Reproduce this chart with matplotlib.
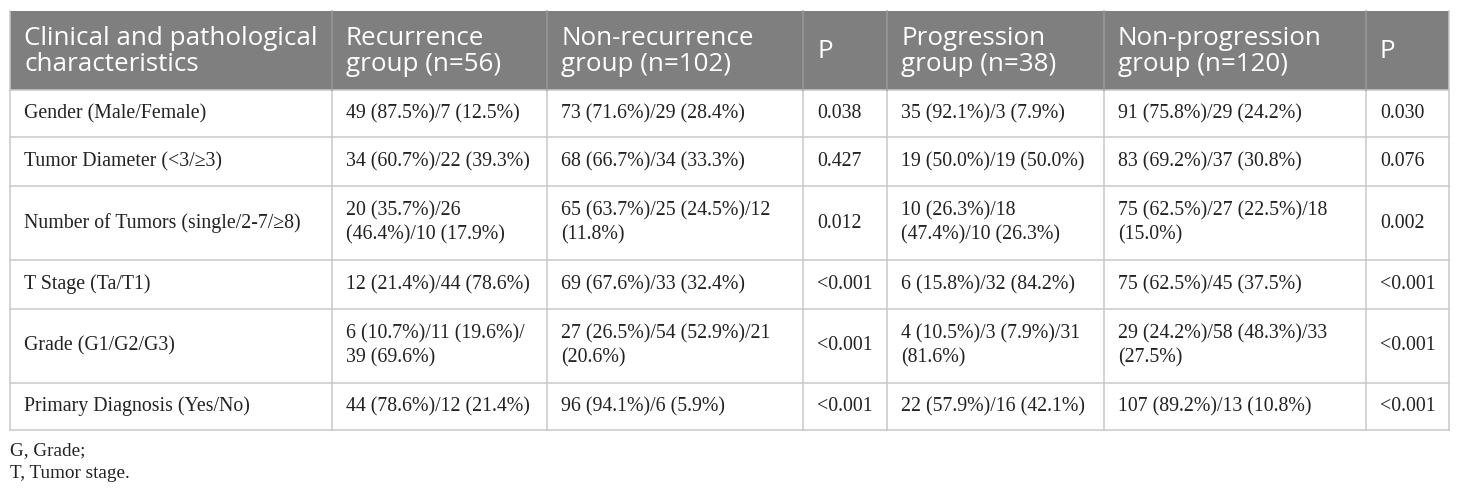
import matplotlib
matplotlib.use("Agg")
import matplotlib.pyplot as plt

W, H = 1460, 495

headers = [
    "Clinical and pathological\ncharacteristics",
    "Recurrence\ngroup (n=56)",
    "Non-recurrence\ngroup (n=102)",
    "P",
    "Progression\ngroup (n=38)",
    "Non-progression\ngroup (n=120)",
    "P",
]

characteristics = [
    "Gender (Male/Female)",
    "Tumor Diameter (<3/\u22653)",
    "Number of Tumors (single/2-7/\u22658)",
    "T Stage (Ta/T1)",
    "Grade (G1/G2/G3)",
    "Primary Diagnosis (Yes/No)",
]

recurrence = [
    "49 (87.5%)/7 (12.5%)",
    "34 (60.7%)/22 (39.3%)",
    "20 (35.7%)/26\n(46.4%)/10 (17.9%)",
    "12 (21.4%)/44 (78.6%)",
    "6 (10.7%)/11 (19.6%)/\n39 (69.6%)",
    "44 (78.6%)/12 (21.4%)",
]
non_recurrence = [
    "73 (71.6%)/29 (28.4%)",
    "68 (66.7%)/34 (33.3%)",
    "65 (63.7%)/25 (24.5%)/12\n(11.8%)",
    "69 (67.6%)/33 (32.4%)",
    "27 (26.5%)/54 (52.9%)/21\n(20.6%)",
    "96 (94.1%)/6 (5.9%)",
]
p_recurrence = ["0.038", "0.427", "0.012", "<0.001", "<0.001", "<0.001"]

progression = [
    "35 (92.1%)/3 (7.9%)",
    "19 (50.0%)/19 (50.0%)",
    "10 (26.3%)/18\n(47.4%)/10 (26.3%)",
    "6 (15.8%)/32 (84.2%)",
    "4 (10.5%)/3 (7.9%)/31\n(81.6%)",
    "22 (57.9%)/16 (42.1%)",
]
non_progression = [
    "91 (75.8%)/29 (24.2%)",
    "83 (69.2%)/37 (30.8%)",
    "75 (62.5%)/27 (22.5%)/18\n(15.0%)",
    "75 (62.5%)/45 (37.5%)",
    "29 (24.2%)/58 (48.3%)/33\n(27.5%)",
    "107 (89.2%)/13 (10.8%)",
]
p_progression = ["0.030", "0.076", "0.002", "<0.001", "<0.001", "<0.001"]

footnotes = ["G, Grade;", "T, Tumor stage."]

# layout in pixels
col_edges = [10, 332, 547, 803, 887, 1104, 1366, 1449]
row_edges = [11, 90, 137, 186, 260, 309, 383, 430]
pad = 14
header_bg = "#7f7f7f"
grid_col = "#c9c9c9"
body_font = "Liberation Serif"

fig = plt.figure(figsize=(W / 100, H / 100), dpi=100)
ax = fig.add_axes([0, 0, 1, 1])
ax.set_xlim(0, W)
ax.set_ylim(H, 0)
ax.axis("off")

# header band
ax.fill_between([col_edges[0], col_edges[-1]], row_edges[0], row_edges[1],
                color=header_bg, linewidth=0)
for i, txt in enumerate(headers):
    ax.text(col_edges[i] + pad, (row_edges[0] + row_edges[1]) / 2 + 1, txt,
            color="white", fontsize=18.7, family="Open Sans",
            ha="left", va="center", linespacing=1.1)

columns = [characteristics, recurrence, non_recurrence, p_recurrence,
           progression, non_progression, p_progression]
for c, col in enumerate(columns):
    for r, txt in enumerate(col):
        y = (row_edges[r + 1] + row_edges[r + 2]) / 2
        ax.text(col_edges[c] + pad, y, txt, color="#222222", fontsize=14.3,
                family=body_font, ha="left", va="center",
                linespacing=1.3)

# grid lines
for y in row_edges[1:]:
    ax.plot([col_edges[0], col_edges[-1]], [y, y], color=grid_col, lw=1.1)
for x in col_edges:
    ax.plot([x, x], [row_edges[1], row_edges[-1]], color=grid_col, lw=1.1)
for x in col_edges[1:-1]:
    ax.plot([x, x], [row_edges[0], row_edges[1]], color="#9a9a9a", lw=1.1)
ax.plot([col_edges[0], col_edges[0]], [row_edges[0], row_edges[1]],
        color=grid_col, lw=1.1)
ax.plot([col_edges[-1], col_edges[-1]], [row_edges[0], row_edges[1]],
        color=grid_col, lw=1.1)

for i, txt in enumerate(footnotes):
    ax.text(col_edges[0], 451 + 22 * i, txt, color="#222222", fontsize=13.8,
            family=body_font, ha="left", va="center")

fig.savefig("out.png", dpi=100)
